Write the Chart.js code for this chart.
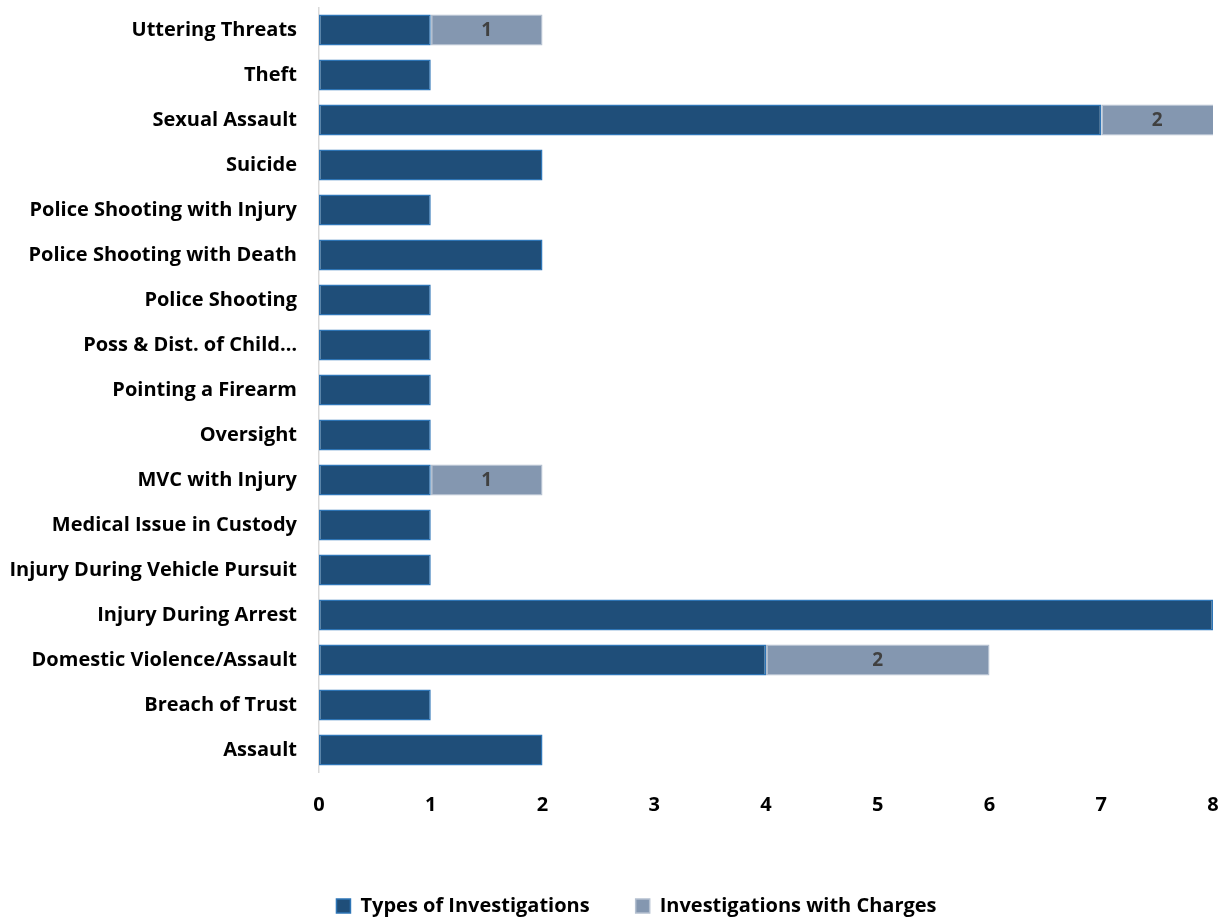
<!DOCTYPE html>
<html>
<head>
<meta charset="utf-8">
<script src="https://cdn.jsdelivr.net/npm/chart.js@4"></script>
<style>
html,body{margin:0;padding:0;background:#fff;}
#wrap{width:1222px;height:917px;position:relative;}
</style>
</head>
<body>
<div id="wrap"><canvas id="c" width="1222" height="917"></canvas></div>
<script>
const categories = [
  "Uttering Threats","Theft","Sexual Assault","Suicide","Police Shooting with Injury",
  "Police Shooting with Death","Police Shooting","Poss & Dist. of Child\u2026","Pointing a Firearm",
  "Oversight","MVC with Injury","Medical Issue in Custody","Injury During Vehicle Pursuit",
  "Injury During Arrest","Domestic Violence/Assault","Breach of Trust","Assault"
];
const typesOfInvestigations = [1,1,7,2,1,2,1,1,1,1,1,1,1,8,4,1,2];
const investigationsWithCharges = [1,null,2,null,null,null,null,null,null,null,1,null,null,null,2,null,null];
const xTicks = [0,1,2,3,4,5,6,7,8];
const seriesNames = ["Types of Investigations","Investigations with Charges"];

const FONT = "'Open Sans', Lato, sans-serif";

const segmentLabels = {
  id: 'segmentLabels',
  afterDatasetsDraw(chart) {
    const ctx = chart.ctx;
    const xs = chart.scales.x, ys = chart.scales.y;
    ctx.save();
    ctx.font = "bold 19px " + FONT;
    ctx.fillStyle = "#404040";
    ctx.textAlign = "center";
    ctx.textBaseline = "middle";
    investigationsWithCharges.forEach((v, i) => {
      if (v == null) return;
      const start = typesOfInvestigations[i];
      const end = Math.min(start + v, xs.max);
      const x = (xs.getPixelForValue(start) + xs.getPixelForValue(end)) / 2;
      const y = ys.getPixelForValue(i);
      ctx.fillText(String(v), x, y + 1);
    });
    ctx.restore();
  }
};

const legendShift = {
  id: 'legendShift',
  afterLayout(chart) {
    if (chart.legend) { chart.legend.left += 30; chart.legend.right += 30; }
  }
};

new Chart(document.getElementById('c'), {
  type: 'bar',
  data: {
    labels: categories,
    datasets: [
      {
        label: seriesNames[0],
        data: typesOfInvestigations,
        backgroundColor: '#1F4E79',
        borderColor: '#2E75B6',
        borderWidth: 1.5,
        borderSkipped: false,
        categoryPercentage: 1,
        barPercentage: 0.685
      },
      {
        label: seriesNames[1],
        data: investigationsWithCharges,
        backgroundColor: '#8497B0',
        borderColor: '#B4C0D0',
        borderWidth: 1.5,
        borderSkipped: false,
        categoryPercentage: 1,
        barPercentage: 0.685
      }
    ]
  },
  options: {
    indexAxis: 'y',
    responsive: false,
    animation: false,
    devicePixelRatio: 1,
    layout: { padding: { top: 7.5, right: 9, left: 0, bottom: -9 } },
    plugins: {
      legend: {
        position: 'bottom',
        labels: {
          font: { family: FONT, size: 20, weight: 'bold' },
          color: '#000',
          boxWidth: 14,
          boxHeight: 14,
          padding: 46
        }
      },
      tooltip: { enabled: false }
    },
    scales: {
      x: {
        stacked: true,
        min: 0,
        max: 8,
        afterBuildTicks(scale) { scale.ticks = xTicks.map(v => ({ value: v })); },
        afterFit(scale) {
          scale.height = 77.5;
          scale.paddingLeft = 0; scale.paddingRight = 0;
        },
        grid: { display: false, drawTicks: false },
        border: { display: false },
        ticks: {
          padding: 21,
          color: '#000',
          font: { family: FONT, size: 20, weight: 'bold' },
          maxRotation: 0
        }
      },
      y: {
        stacked: true,
        afterFit(scale) {
          scale.width = 319;
          scale.paddingTop = 0; scale.paddingBottom = 0;
        },
        grid: { display: false, drawTicks: false },
        border: { display: true, color: '#D9D9D9', width: 1.5 },
        ticks: {
          padding: 22,
          color: '#000',
          autoSkip: false,
          font: { family: FONT, size: 20, weight: 'bold' }
        }
      }
    }
  },
  plugins: [segmentLabels, legendShift]
});
</script>
</body>
</html>
